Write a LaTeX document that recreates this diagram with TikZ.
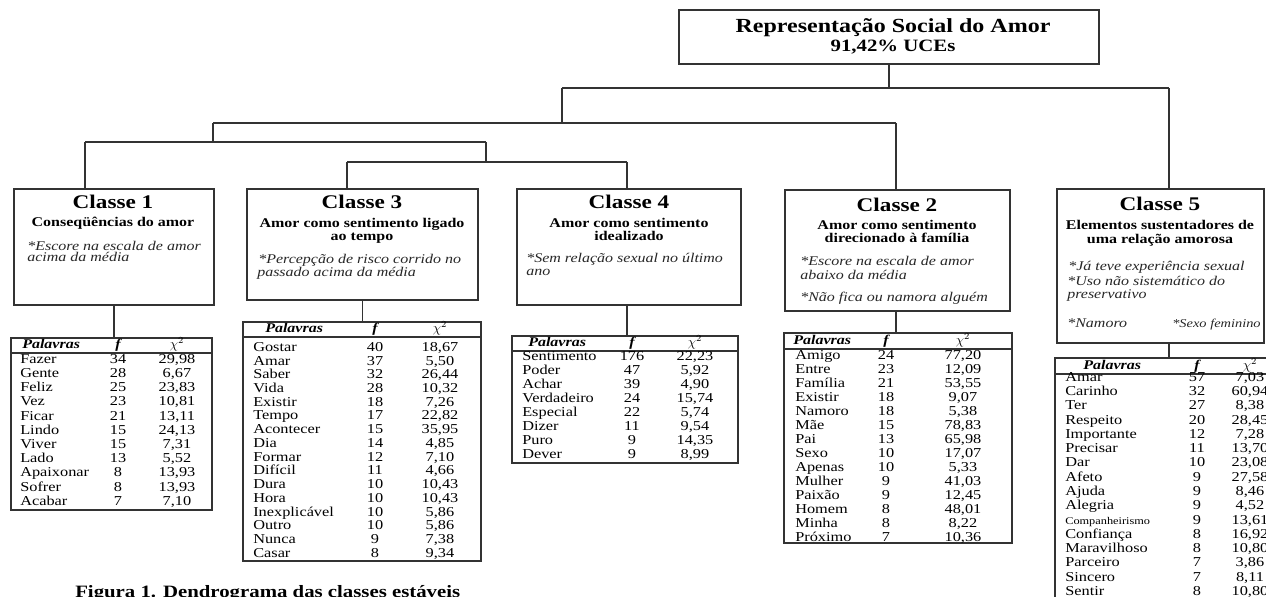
\documentclass[tikz,border=0pt]{standalone}
\usepackage{fontspec}
\setmainfont{Liberation Serif}[FakeStretch=1.2]
\usetikzlibrary{positioning,fit}

\tikzset{
  link/.style={draw=black!80, line width=1.1pt},
  classbox/.style={draw=black!80, line width=1.1pt, inner sep=0pt},
  wordbox/.style={draw=black!80, line width=1.1pt, inner sep=0pt},
  roottitle/.style={font=\fontsize{15}{17}\selectfont\bfseries, inner sep=0pt},
  rootsub/.style={font=\fontsize{13}{15}\selectfont\bfseries, inner sep=0pt},
  classtitle/.style={font=\fontsize{14.5}{16}\selectfont\bfseries, inner sep=0pt, text height=0.7em, text depth=0.2em},
  classsub/.style={font=\fontsize{10}{11}\selectfont\bfseries, inner sep=0pt, text height=0.7em, text depth=0.2em},
  classnote/.style={font=\fontsize{10}{11}\selectfont\itshape, text=black!85, anchor=west, inner sep=0pt, text height=0.7em, text depth=0.2em},
  headword/.style={font=\fontsize{10}{11}\selectfont\bfseries\itshape, anchor=west, inner sep=0pt, text height=0.7em, text depth=0.2em},
  headnum/.style={font=\fontsize{10}{11}\selectfont\bfseries\itshape, inner sep=0pt, text height=0.7em, text depth=0.2em},
  rowword/.style={font=\fontsize{10.2}{11}\selectfont, anchor=west, inner sep=0pt, text height=0.7em, text depth=0.2em},
  rownum/.style={font=\fontsize{10.2}{11}\selectfont, inner sep=0pt, text height=0.7em, text depth=0.2em},
  caption/.style={font=\fontsize{13}{15}\selectfont\bfseries, inner sep=0pt},
}

\begin{document}
\begin{tikzpicture}[x=0.75pt,y=-0.75pt]
  \useasboundingbox (0,0) rectangle (1266,596);
  \clip (0,0) rectangle (1266,596);

  % root
  \node[classbox, fit={(679,10) (1099,64)}] (root) {};
  \node[roottitle] (rooth) at (893,28) {Representação Social do Amor};
  \node[rootsub] (roots) at (893,47) {91,42\% UCEs};

  % classes
  \node[classbox, fit={(14,189) (214,305)}] (c1) {};
  \node[classbox, fit={(247,189) (478,300)}] (c3) {};
  \node[classbox, fit={(517,189) (741,305)}] (c4) {};
  \node[classbox, fit={(785,190) (1010,311)}] (c2) {};
  \node[classbox, fit={(1057,189) (1264,343)}] (c5) {};

  \node[classtitle] (c1h) at (113,205) {Classe 1};
  \node[classsub] (c1s) at (113,223) {Conseqüências do amor};
  \node[classnote] (c1n1) at (27,247) {*Escore na escala de amor};
  \node[classnote] (c1n2) at (27,258) {acima da média};

  \node[classtitle] (c3h) at (362,205) {Classe 3};
  \node[classsub] (c3s1) at (362,224) {Amor como sentimento ligado};
  \node[classsub] (c3s2) at (362,237) {ao tempo};
  \node[classnote] (c3n1) at (258,260) {*Percepção de risco corrido no};
  \node[classnote] (c3n2) at (257,273) {passado acima da média};

  \node[classtitle] (c4h) at (629,205) {Classe 4};
  \node[classsub] (c4s1) at (629,224) {Amor como sentimento};
  \node[classsub] (c4s2) at (629,237) {idealizado};
  \node[classnote] (c4n1) at (526,259) {*Sem relação sexual no último};
  \node[classnote] (c4n2) at (526,272) {ano};

  \node[classtitle] (c2h) at (897,208) {Classe 2};
  \node[classsub] (c2s1) at (897,226) {Amor como sentimento};
  \node[classsub] (c2s2) at (897,239) {direcionado à família};
  \node[classnote] (c2n1) at (800,262) {*Escore na escala de amor};
  \node[classnote] (c2n2) at (800,276) {abaixo da média};
  \node[classnote] (c2n3) at (800,298) {*Não fica ou namora alguém};

  \node[classtitle] (c5h) at (1160,207) {Classe 5};
  \node[classsub] (c5s1) at (1160,226) {Elementos sustentadores de};
  \node[classsub] (c5s2) at (1160,240) {uma relação amorosa};
  \node[classnote] (c5n1) at (1068,267) {*Já teve experiência sexual};
  \node[classnote] (c5n2) at (1067,282) {*Uso não sistemático do};
  \node[classnote] (c5n3) at (1067,295) {preservativo};
  \node[classnote] (c5n4) at (1067,324) {*Namoro};
  \node[classnote, font=\fontsize{9}{10}\selectfont\itshape] (c5n5) at (1172,324) {*Sexo feminino};

  % dendrogram
  \coordinate (h1l) at (562,88);
  \coordinate (h1r) at (1169,88);
  \coordinate (h2l) at (213,123);
  \coordinate (h2r) at (896,123);
  \coordinate (h3l) at (85,142);
  \coordinate (h3r) at (486,142);
  \coordinate (h4l) at (347,162);
  \coordinate (h4r) at (627,162);
  \draw[link] (root.south) -- (root.south |- h1l);
  \draw[link] (h1l) -- (h1r);
  \draw[link] (h1r) -- (h1r |- c5.north);
  \draw[link] (h1l) -- (h1l |- h2l);
  \draw[link] (h2l) -- (h2r);
  \draw[link] (h2r) -- (h2r |- c2.north);
  \draw[link] (h2l) -- (h2l |- h3l);
  \draw[link] (h3l) -- (h3r);
  \draw[link] (h3l) -- (h3l |- c1.north);
  \draw[link] (h3r) -- (h3r |- h4l);
  \draw[link] (h4l) -- (h4r);
  \draw[link] (h4l) -- (h4l |- c3.north);
  \draw[link] (h4r) -- (h4r |- c4.north);

  % tables
  \node[wordbox, fit={(11,338) (212,510)}] (t1) {};
  \node[wordbox, fit={(243,322) (481,561)}] (t3) {};
  \node[wordbox, fit={(512,336) (738,463)}] (t4) {};
  \node[wordbox, fit={(784,333) (1012,543)}] (t2) {};
  \node[wordbox, fit={(1055,358) (1275,610)}] (t5) {};

  \draw[link] (c1.south) -- (c1.south |- t1.north);
  \draw[link] (c3.south) -- (c3.south |- t3.north);
  \draw[link] (h4r |- c4.south) -- (h4r |- t4.north);
  \draw[link] (h2r |- c2.south) -- (h2r |- t2.north);
  \draw[link] (h1r |- c5.south) -- (h1r |- t5.north);

  % Classe 1
  \draw[link] (t1.west |- 0,353) -- (t1.east |- 0,353);
  \node[headword] (t1p) at (22,345) {Palavras};
  \node[headnum] (t1f) at (118,345) {f};
  \node[headnum] (t1x) at (177,345) {$\chi^2$};
  \foreach \pal/\freq/\qui [count=\i from 0] in {Fazer/34/{29,98}, Gente/28/{6,67},
      Feliz/25/{23,83}, Vez/23/{10,81}, Ficar/21/{13,11}, Lindo/15/{24,13},
      Viver/15/{7,31}, Lado/13/{5,52}, Apaixonar/8/{13,93}, Sofrer/8/{13,93},
      Acabar/7/{7,10}}{
    \node[rowword] (t1w\i) at (20,{360+14.2*\i}) {\pal};
    \node[rownum] (t1f\i) at (118,{360+14.2*\i}) {\freq};
    \node[rownum] (t1x\i) at (177,{360+14.2*\i}) {\qui};
  }

  % Classe 3
  \draw[link] (t3.west |- 0,337) -- (t3.east |- 0,337);
  \node[headword] (t3p) at (265,329) {Palavras};
  \node[headnum] (t3f) at (375,329) {f};
  \node[headnum] (t3x) at (440,329) {$\chi^2$};
  \foreach \pal/\freq/\qui [count=\i from 0] in {Gostar/40/{18,67}, Amar/37/{5,50},
      Saber/32/{26,44}, Vida/28/{10,32}, Existir/18/{7,26}, Tempo/17/{22,82},
      Acontecer/15/{35,95}, Dia/14/{4,85}, Formar/12/{7,10}, Difícil/11/{4,66},
      Dura/10/{10,43}, Hora/10/{10,43}, Inexplicável/10/{5,86}, Outro/10/{5,86},
      Nunca/9/{7,38}, Casar/8/{9,34}}{
    \node[rowword] (t3w\i) at (253,{348+13.73*\i}) {\pal};
    \node[rownum] (t3f\i) at (375,{348+13.73*\i}) {\freq};
    \node[rownum] (t3x\i) at (440,{348+13.73*\i}) {\qui};
  }

  % Classe 4
  \draw[link] (t4.west |- 0,351) -- (t4.east |- 0,351);
  \node[headword] (t4p) at (528,343) {Palavras};
  \node[headnum] (t4f) at (632,343) {f};
  \node[headnum] (t4x) at (695,343) {$\chi^2$};
  \foreach \pal/\freq/\qui [count=\i from 0] in {Sentimento/176/{22,23}, Poder/47/{5,92},
      Achar/39/{4,90}, Verdadeiro/24/{15,74}, Especial/22/{5,74}, Dizer/11/{9,54},
      Puro/9/{14,35}, Dever/9/{8,99}}{
    \node[rowword] (t4w\i) at (522,{357+14*\i}) {\pal};
    \node[rownum] (t4f\i) at (632,{357+14*\i}) {\freq};
    \node[rownum] (t4x\i) at (695,{357+14*\i}) {\qui};
  }

  % Classe 2
  \draw[link] (t2.west |- 0,349) -- (t2.east |- 0,349);
  \node[headword] (t2p) at (793,341) {Palavras};
  \node[headnum] (t2f) at (886,341) {f};
  \node[headnum] (t2x) at (963,341) {$\chi^2$};
  \foreach \pal/\freq/\qui [count=\i from 0] in {Amigo/24/{77,20}, Entre/23/{12,09},
      Família/21/{53,55}, Existir/18/{9,07}, Namoro/18/{5,38}, Mãe/15/{78,83},
      Pai/13/{65,98}, Sexo/10/{17,07}, Apenas/10/{5,33}, Mulher/9/{41,03},
      Paixão/9/{12,45}, Homem/8/{48,01}, Minha/8/{8,22}, Próximo/7/{10,36}}{
    \node[rowword] (t2w\i) at (795,{356+14*\i}) {\pal};
    \node[rownum] (t2f\i) at (886,{356+14*\i}) {\freq};
    \node[rownum] (t2x\i) at (963,{356+14*\i}) {\qui};
  }

  % Classe 5
  \draw[link] (t5.west |- 0,374) -- (t5.east |- 0,374);
  \node[headword] (t5p) at (1083,366) {Palavras};
  \node[headnum] (t5f) at (1197,366) {f};
  \node[headnum] (t5x) at (1250,366) {$\chi^2$};
  \foreach \pal/\freq/\qui [count=\i from 0] in {Amar/57/{7,03}, Carinho/32/{60,94},
      Ter/27/{8,38}, Respeito/20/{28,45}, Importante/12/{7,28}, Precisar/11/{13,70},
      Dar/10/{23,08}, Afeto/9/{27,58}, Ajuda/9/{8,46}, Alegria/9/{4,52},
      {\fontsize{7.7}{8}\selectfont Companheirismo}/9/{13,61}, Confiança/8/{16,92},
      Maravilhoso/8/{10,80}, Parceiro/7/{3,86}, Sincero/7/{8,11}, Sentir/8/{10,80}}{
    \node[rowword] (t5w\i) at (1065,{378+14.27*\i}) {\pal};
    \node[rownum] (t5f\i) at (1197,{378+14.27*\i}) {\freq};
    \node[rownum] (t5x\i) at (1250,{378+14.27*\i}) {\qui};
  }

  \node[caption, anchor=base west] (fig) at (75,597) {Figura 1. Dendrograma das classes estáveis};
\end{tikzpicture}
\end{document}
